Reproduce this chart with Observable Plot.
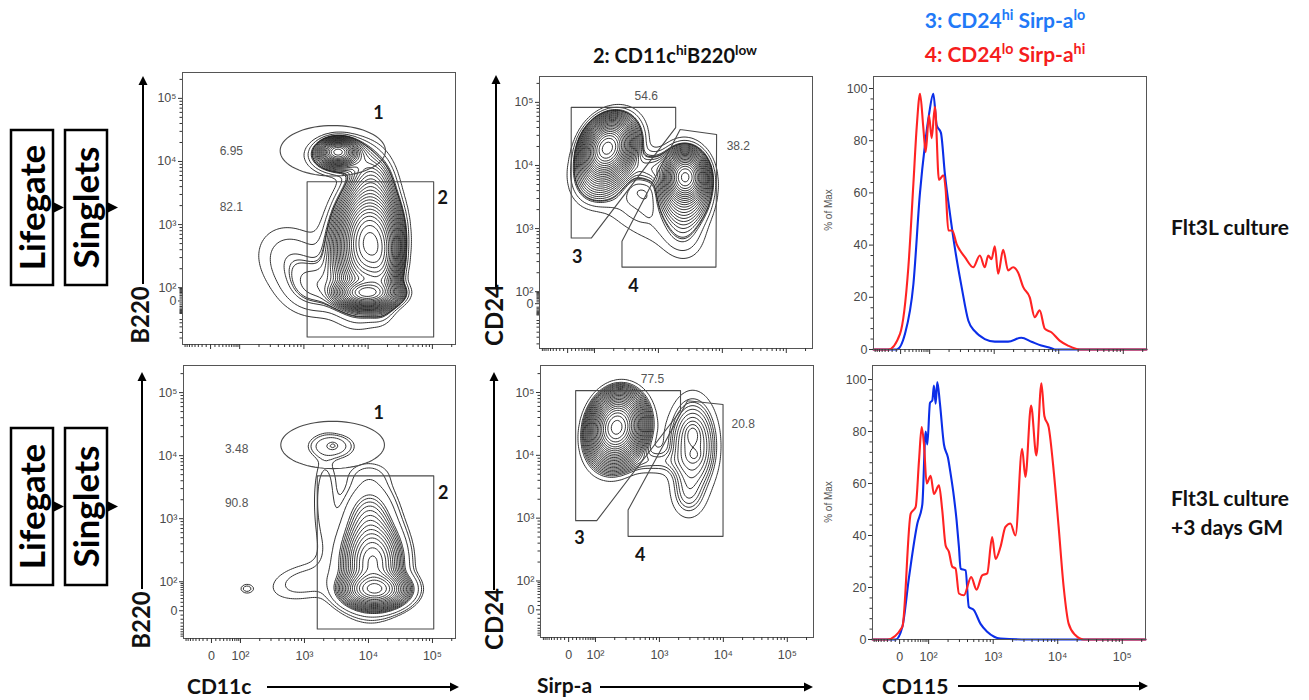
<!DOCTYPE html>
<html>
<head>
<meta charset="utf-8">
<script src="https://cdn.jsdelivr.net/npm/d3@7"></script>
<script src="https://cdn.jsdelivr.net/npm/@observablehq/plot@0.6"></script>
<style>
  html, body { margin: 0; padding: 0; background: #fff; }
  #root { position: relative; width: 1309px; height: 700px; overflow: hidden; font-family: Lato, "Open Sans", sans-serif; }
  .lbl { position: absolute; white-space: nowrap; font-weight: bold; color: #111; line-height: 1.15; }
  .lbl sup { font-size: 0.68em; vertical-align: 0.55em; line-height: 0; }
  .rot { transform: translate(-50%, -50%) rotate(-90deg); }
  .ctr { transform: translate(-50%, -50%); }
  .midy { transform: translate(0, -50%); }
</style>
</head>
<body>
<div id="root"></div>
<script>
// ================= DATA =================
// Positions on the biexponential axes are in "decade" units: 2 = 10², 3 = 10³, 4 = 10⁴, 5 = 10⁵.
const decadeLabels = ["0", "10²", "10³", "10⁴", "10⁵"];
const pctTicks = [0, 20, 40, 60, 80, 100];
const pctMinor = [4, 8, 12, 16, 24, 28, 32, 36, 44, 48, 52, 56, 64, 68, 72, 76, 84, 88, 92, 96];

// Contour populations: [centre x, centre y, spread x, spread y, correlation, relative density]
const b220Cd11cFlt3 = [
  [4.00, 2.72, 0.18, 0.33, 0.05, 1.00],
  [3.98, 1.92, 0.20, 0.10, 0.00, 0.70],
  [4.20, 2.50, 0.12, 0.32, 0.00, 0.35],
  [3.90, 2.60, 0.25, 0.45, 0.10, 0.08],
  [3.53, 4.15, 0.12, 0.085, 0.00, 0.35],
  [3.58, 4.10, 0.23, 0.14, 0.00, 0.04],
  [2.85, 2.40, 0.35, 0.35, -0.20, 0.006],
  [3.20, 2.00, 0.30, 0.25, 0.00, 0.008],
  [4.05, 3.60, 0.17, 0.26, 0.00, 0.035]
];
const b220Cd11cGM = [
  [4.10, 1.88, 0.22, 0.13, 0.00, 1.00],
  [4.07, 2.30, 0.20, 0.28, 0.00, 0.40],
  [4.02, 2.90, 0.20, 0.33, 0.00, 0.06],
  [3.95, 2.30, 0.32, 0.42, 0.00, 0.02],
  [3.42, 4.15, 0.18, 0.10, 0.00, 0.020],
  [3.45, 4.16, 0.06, 0.05, 0.00, 0.010],
  [3.32, 3.30, 0.12, 0.50, 0.00, 0.007],
  [4.00, 3.70, 0.25, 0.15, 0.00, 0.004],
  [3.00, 2.00, 0.40, 0.22, 0.30, 0.006],
  [2.10, 1.89, 0.07, 0.05, 0.00, 0.006]
];
const cd24SirpFlt3 = [
  [2.20, 4.28, 0.15, 0.18, 0.20, 1.00],
  [2.22, 4.12, 0.22, 0.28, 0.35, 0.10],
  [3.42, 3.82, 0.13, 0.16, 0.00, 0.60],
  [3.40, 3.65, 0.19, 0.28, 0.00, 0.08],
  [2.90, 3.95, 0.25, 0.15, 0.00, 0.012],
  [2.60, 3.25, 0.45, 0.35, -0.75, 0.0035],
  [3.40, 2.95, 0.20, 0.25, 0.00, 0.005]
];
const cd24SirpGM = [
  [2.33, 4.45, 0.16, 0.21, 0.10, 1.00],
  [2.35, 4.35, 0.22, 0.28, 0.20, 0.08],
  [3.52, 4.15, 0.20, 0.40, 0.00, 0.025],
  [3.52, 4.35, 0.07, 0.10, 0.00, 0.010],
  [3.55, 4.00, 0.06, 0.06, 0.00, 0.006],
  [3.45, 3.35, 0.16, 0.22, 0.00, 0.006],
  [2.90, 3.90, 0.28, 0.12, 0.00, 0.006]
];
// Contour levels: [number of main levels, ratio between levels, extra outer levels (fraction of max)]
const levelsFlt3B220 = [24, 0.8, [0.006, 0.003, 0.0015]];
const levelsGMB220 = [18, 0.8, [0.008, 0.004, 0.0025]];
const levelsFlt3Cd24 = [24, 0.8, [0.006, 0.003, 0.0015]];
const levelsGMCd24 = [24, 0.8, [0.004, 0.002]];

// Gates (vertices in axis units)
const gate1Flt3 = {cx: 3.45, cy: 4.17, rx: 0.82, ry: 0.40};
const gate2Flt3 = [[3.05, 3.68], [5.02, 3.68], [5.02, 1.22], [3.05, 1.22], [3.05, 3.68]];
const gate1GM = {cx: 3.44, cy: 4.17, rx: 0.81, ry: 0.375};
const gate2GM = [[3.20, 3.68], [5.02, 3.68], [5.02, 1.25], [3.20, 1.25], [3.20, 3.68]];
const gate3Flt3 = [[1.636, 4.92], [3.27, 4.92], [3.27, 4.60], [1.95, 2.85], [1.636, 2.85], [1.636, 4.92]];
const gate4Flt3 = [[3.34, 4.57], [3.91, 4.49], [3.90, 2.39], [2.43, 2.39], [2.43, 2.80], [3.34, 4.57]];
const gate3GM = [[1.69, 5.03], [3.33, 5.03], [3.33, 4.71], [2.02, 2.96], [1.69, 2.96], [1.69, 5.03]];
const gate4GM = [[3.44, 4.87], [3.995, 4.81], [3.995, 2.71], [2.51, 2.71], [2.51, 3.13], [3.44, 4.87]];

// Gate frequencies and gate numbers
const freqB220Flt3 = [{x: 1.87, y: 4.17, t: "6.95"}, {x: 1.87, y: 3.27, t: "82.1"}];
const freqB220GM = [{x: 1.94, y: 4.10, t: "3.48"}, {x: 1.94, y: 3.25, t: "90.8"}];
const freqCd24Flt3 = [{x: 2.81, y: 5.10, t: "54.6"}, {x: 4.25, y: 4.30, t: "38.2"}];
const freqCd24GM = [{x: 2.89, y: 5.21, t: "77.5"}, {x: 4.31, y: 4.49, t: "20.8"}];
const numB220Flt3 = [{x: 4.16, y: 4.76, t: "1"}, {x: 5.16, y: 3.41, t: "2"}];
const numB220GM = [{x: 4.16, y: 4.68, t: "1"}, {x: 5.17, y: 3.40, t: "2"}];
const numCd24Flt3 = [{x: 1.73, y: 2.54, t: "3"}, {x: 2.61, y: 2.08, t: "4"}];
const numCd24GM = [{x: 1.75, y: 2.68, t: "3"}, {x: 2.70, y: 2.41, t: "4"}];

// CD115 histograms: [axis position, % of max]
const cd115Pop3Flt3 = [[1.13,0],[1.49,0],[1.618,6],[1.748,25],[1.85,60],[1.93,79],[1.99,90],[2.057,98],[2.108,86],[2.175,83],[2.237,67],[2.315,52],[2.39,39],[2.495,24],[2.60,11],[2.70,7],[2.855,4],[3.01,3],[3.216,3],[3.42,4.5],[3.577,3],[3.73,1.5],[3.886,0.5],[3.94,0],[5.36,0]];
const cd115Pop4Flt3 = [[1.13,0],[1.361,0],[1.541,6],[1.670,31.5],[1.748,63.5],[1.799,85],[1.851,98],[1.902,85],[1.938,75.6],[1.990,89.7],[2.031,81],[2.082,93],[2.144,65],[2.211,66.7],[2.247,61.5],[2.289,45.6],[2.350,45.6],[2.417,40.5],[2.469,38],[2.546,35.4],[2.675,31.5],[2.778,36],[2.855,31.5],[2.907,36],[2.958,34.6],[3.010,39.5],[3.061,29],[3.139,38.2],[3.216,30.3],[3.293,31.5],[3.370,29.5],[3.448,24],[3.551,20],[3.628,12.4],[3.705,15],[3.783,8],[3.886,6.6],[4.014,3.4],[4.143,1.5],[4.324,0],[5.36,0]];
const cd115Pop3GM = [[1.13,0],[1.490,0],[1.593,4.9],[1.696,24],[1.825,44.6],[1.902,52],[1.954,80],[1.979,75],[2.021,91],[2.057,92],[2.082,97.7],[2.108,90.7],[2.134,99],[2.175,90.7],[2.237,75],[2.299,70],[2.340,63.8],[2.392,54.8],[2.433,45.8],[2.469,35.6],[2.495,27.3],[2.572,26.6],[2.623,12.5],[2.701,11.3],[2.804,6],[2.907,3],[3.113,0.4],[3.525,0],[5.36,0]];
const cd115Pop4GM = [[1.13,0],[1.361,0],[1.593,4.9],[1.722,48.4],[1.799,51],[1.851,69],[1.892,81.7],[1.928,75],[1.969,60],[2.031,63],[2.082,56],[2.160,59.3],[2.211,49.7],[2.263,36.2],[2.314,33.7],[2.366,28],[2.417,27.3],[2.469,17.7],[2.546,17],[2.659,24],[2.742,19.2],[2.830,24.7],[2.907,25.4],[2.984,39.4],[3.036,31],[3.113,35.6],[3.190,43.3],[3.267,44.6],[3.345,40],[3.448,73.4],[3.499,62.5],[3.587,90],[3.669,70.8],[3.747,98.6],[3.793,86],[3.860,81.7],[3.937,65],[4.014,43.3],[4.092,20.2],[4.169,6.1],[4.272,1.7],[4.401,0],[5.36,0]];

// ================= HELPERS =================
const root = document.getElementById("root");
const BLUE_LINE = "#0b2ee8", RED_LINE = "#ff2323";

function mixture(comps) {
  return (x, y) => {
    let s = 0;
    for (const [cx, cy, sx, sy, r, w] of comps) {
      const dx = (x - cx) / sx, dy = (y - cy) / sy;
      s += w * Math.exp(-0.5 * (dx * dx - 2 * r * dx * dy + dy * dy) / (1 - r * r));
    }
    return s;
  };
}
function levels(f, xd, yd, spec) {
  const [n, ratio, extra] = spec;
  let max = 0;
  for (let i = 0; i <= 150; i++) for (let j = 0; j <= 150; j++) {
    const v = f(xd[0] + (xd[1] - xd[0]) * i / 150, yd[0] + (yd[1] - yd[0]) * j / 150);
    if (v > max) max = v;
  }
  const main = d3.range(n).map(k => max * Math.pow(ratio, k + 0.6));
  return [...main, ...extra.map(e => max * e)].sort((a, b) => a - b);
}
function ellipse(g) {
  return d3.range(0, 73).map(i => {
    const a = i / 72 * 2 * Math.PI;
    return [g.cx + g.rx * Math.cos(a), g.cy + g.ry * Math.sin(a)];
  });
}
function biexMinor(z0, lo, hi) {
  const out = [];
  for (let k = 2; k <= 5; k++) for (let m = 2; m <= 9; m++) {
    const p = k + Math.log10(m);
    if (p < hi - 0.01) out.push(p);
  }
  const span = 2 - z0, s = Math.asinh(100 / 40);
  const vals = [10, 20, 30, 40, 50, 60, 70, 80, 90, 200, 300, 500, 1000, 2000, 5000, 10000];
  for (const v of vals) {
    const t = Math.asinh(v / 40) / s;
    if (v < 100) out.push(z0 + span * t);
    const n = z0 - span * t;
    if (n > lo + 0.02 && z0 - n > 0.03) out.push(n);
  }
  return out;
}
function biexMajor(z0) { return [z0, 2, 3, 4, 5]; }

function place(svg, left, top) {
  svg.style.position = "absolute";
  svg.style.left = left + "px";
  svg.style.top = top + "px";
  root.appendChild(svg);
}

const M = {l: 42, r: 12, t: 10, b: 32};
const plotStyle = {background: "none", fontFamily: "'Liberation Sans', Arial, sans-serif", fontSize: "12px", color: "#444", overflow: "visible"};

function axes(xMaj, xMin, yMaj, yMin, xFmt, yFmt) {
  return [
    Plot.axisX(xMaj, {anchor: "bottom", tickSize: 5, tickPadding: 8, tickFormat: xFmt, stroke: "#333", fill: "#4a4a4a", label: null, fontSize: 12.5}),
    Plot.axisX(xMin, {anchor: "bottom", tickSize: 3, tickFormat: () => "", stroke: "#333", label: null}),
    Plot.axisY(yMaj, {anchor: "left", tickSize: 4, tickPadding: 2, tickFormat: yFmt, stroke: "#333", fill: "#4a4a4a", label: null, fontSize: 12.5}),
    Plot.axisY(yMin, {anchor: "left", tickSize: 2.5, tickFormat: () => "", stroke: "#333", label: null})
  ];
}

function contourPanel(p) {
  const f = mixture(p.comps);
  const th = levels(f, p.xd, p.yd, p.levels);
  const xMap = new Map(biexMajor(p.x0).map((v, i) => [v, decadeLabels[i]]));
  const yMap = new Map(biexMajor(p.y0).map((v, i) => [v, decadeLabels[i]]));
  const svg = Plot.plot({
    width: p.w + M.l + M.r, height: p.h + M.t + M.b,
    marginLeft: M.l, marginRight: M.r, marginTop: M.t, marginBottom: M.b,
    x: {domain: p.xd}, y: {domain: p.yd},
    style: plotStyle,
    marks: [
      Plot.contour({value: f, x1: p.xd[0], x2: p.xd[1], y1: p.yd[0], y2: p.yd[1], thresholds: th,
        stroke: "#1c1c1c", strokeWidth: 0.9, fill: "none"}),
      ...p.gates.map(g => Plot.line(g, {x: d => d[0], y: d => d[1], stroke: "#4a4a4a", strokeWidth: 1.1})),
      Plot.text(p.freq, {x: "x", y: "y", text: "t", fill: "#555", fontSize: 12}),
      Plot.text(p.nums, {x: "x", y: "y", text: "t", fill: "#151515", fontSize: 18, fontWeight: "bold", fontFamily: "Lato, sans-serif"}),
      Plot.frame({stroke: "#555"}),
      ...axes(biexMajor(p.x0), biexMinor(p.x0, p.xd[0], p.xd[1]), biexMajor(p.y0), biexMinor(p.y0, p.yd[0], p.yd[1]),
        p.xLabels ? (d => xMap.get(d)) : (() => ""), d => yMap.get(d))
    ]
  });
  place(svg, p.left - M.l, p.top - M.t);
}

function histPanel(p) {
  const xMap = new Map(biexMajor(p.x0).map((v, i) => [v, decadeLabels[i]]));
  const svg = Plot.plot({
    width: p.w + M.l + M.r, height: p.h + M.t + M.b,
    marginLeft: M.l, marginRight: M.r, marginTop: M.t, marginBottom: M.b,
    x: {domain: p.xd}, y: {domain: p.yd},
    style: plotStyle,
    marks: [
      Plot.line(p.blue, {x: d => d[0], y: d => d[1], stroke: BLUE_LINE, strokeWidth: 2.1, strokeLinejoin: "round", curve: "monotone-x"}),
      Plot.line(p.red, {x: d => d[0], y: d => d[1], stroke: RED_LINE, strokeWidth: 2.1, strokeLinejoin: "round", curve: "monotone-x"}),
      Plot.frame({stroke: "#555"}),
      ...axes(biexMajor(p.x0), biexMinor(p.x0, p.xd[0], p.xd[1]), pctTicks, pctMinor,
        p.xLabels ? (d => xMap.get(d)) : (() => ""), d => String(d))
    ]
  });
  place(svg, p.left - M.l, p.top - M.t);
}

// ================= PANELS =================
contourPanel({left: 182, top: 72, w: 273, h: 272, xd: [1.11, 5.36], yd: [1.10, 5.41], x0: 1.547, y0: 1.79,
  comps: b220Cd11cFlt3, levels: levelsFlt3B220, gates: [ellipse(gate1Flt3), gate2Flt3], freq: freqB220Flt3, nums: numB220Flt3, xLabels: false});
contourPanel({left: 539, top: 76, w: 273, h: 272, xd: [1.14, 5.41], yd: [1.10, 5.41], x0: 1.58, y0: 1.81,
  comps: cd24SirpFlt3, levels: levelsFlt3Cd24, gates: [gate3Flt3, gate4Flt3], freq: freqCd24Flt3, nums: numCd24Flt3, xLabels: false});
histPanel({left: 873, top: 76, w: 273, h: 273, xd: [1.13, 5.36], yd: [0, 104.6], x0: 1.55,
  blue: cd115Pop3Flt3, red: cd115Pop4Flt3, xLabels: false});
contourPanel({left: 183, top: 365, w: 272, h: 273, xd: [1.11, 5.36], yd: [1.10, 5.43], x0: 1.547, y0: 1.54,
  comps: b220Cd11cGM, levels: levelsGMB220, gates: [ellipse(gate1GM), gate2GM], freq: freqB220GM, nums: numB220GM, xLabels: true});
contourPanel({left: 540, top: 365, w: 273, h: 272, xd: [1.14, 5.41], yd: [1.10, 5.43], x0: 1.58, y0: 1.54,
  comps: cd24SirpGM, levels: levelsGMCd24, gates: [gate3GM, gate4GM], freq: freqCd24GM, nums: numCd24GM, xLabels: true});
histPanel({left: 872, top: 365, w: 273, h: 274, xd: [1.13, 5.36], yd: [0, 105.4], x0: 1.55,
  blue: cd115Pop3GM, red: cd115Pop4GM, xLabels: true});

// ================= ANNOTATIONS =================
function label(html, x, y, cls, style) {
  const d = document.createElement("div");
  d.className = "lbl " + cls;
  d.innerHTML = html;
  d.style.left = x + "px"; d.style.top = y + "px";
  Object.assign(d.style, style || {});
  root.appendChild(d);
}
label("3: CD24<sup>hi</sup> Sirp-a<sup>lo</sup>", 1005, 20, "ctr", {color: "#2179f7", fontSize: "21px"});
label("4: CD24<sup>lo</sup> Sirp-a<sup>hi</sup>", 1005, 54, "ctr", {color: "#f51d1d", fontSize: "21px"});
label("2: CD11c<sup>hi</sup>B220<sup>low</sup>", 675, 55, "ctr", {fontSize: "20px"});
label("Flt3L culture", 1171, 227, "midy", {fontSize: "21px"});
label("Flt3L culture", 1171, 498, "midy", {fontSize: "21px"});
label("+3 days GM", 1171, 527, "midy", {fontSize: "21px"});
label("B220", 140, 315, "rot", {fontSize: "24px"});
label("B220", 141, 620, "rot", {fontSize: "24px"});
label("CD24", 494, 315, "rot", {fontSize: "24px"});
label("CD24", 494, 619, "rot", {fontSize: "24px"});
label("CD11c", 187, 686, "midy", {fontSize: "21px"});
label("Sirp-a", 537, 685, "midy", {fontSize: "21px"});
label("CD115", 882, 686, "midy", {fontSize: "21px"});
label("% of Max", 829, 210, "rot", {fontSize: "10px", fontWeight: "normal", color: "#555", fontFamily: "'Liberation Sans', Arial, sans-serif"});
label("% of Max", 829, 502, "rot", {fontSize: "10px", fontWeight: "normal", color: "#555", fontFamily: "'Liberation Sans', Arial, sans-serif"});

const deco = d3.create("svg").attr("width", 1309).attr("height", 700)
  .style("position", "absolute").style("left", 0).style("top", 0).style("pointer-events", "none");
function arrow(x1, y1, x2, y2) {
  const a = Math.atan2(y2 - y1, x2 - x1), L = 9, W = 4.5;
  const bx = x2 - L * Math.cos(a), by = y2 - L * Math.sin(a);
  deco.append("line").attr("x1", x1).attr("y1", y1).attr("x2", bx).attr("y2", by).attr("stroke", "#000").attr("stroke-width", 2);
  deco.append("path").attr("d", `M${x2},${y2}L${bx - W * Math.sin(a)},${by + W * Math.cos(a)}L${bx + W * Math.sin(a)},${by - W * Math.cos(a)}Z`).attr("fill", "#000");
}
arrow(143, 284, 143, 76);
arrow(142, 589, 142, 372);
arrow(496, 287, 496, 75);
arrow(494, 590, 494, 372);
arrow(267, 687, 459, 687);
arrow(600, 687, 813, 687);
arrow(958, 686, 1148, 686);

function gateBoxes(y0, y1) {
  const cy = (y0 + y1) / 2;
  for (const [x, t] of [[11, "Lifegate"], [65, "Singlets"]]) {
    deco.append("rect").attr("x", x).attr("y", y0).attr("width", 42).attr("height", y1 - y0)
      .attr("fill", "none").attr("stroke", "#000").attr("stroke-width", 2.5);
    deco.append("text").attr("transform", `translate(${x + 21},${cy}) rotate(-90)`)
      .attr("text-anchor", "middle").attr("dy", "0.36em")
      .attr("font-family", "Lato, sans-serif").attr("font-weight", "bold").attr("font-size", 35).attr("fill", "#000").text(t);
    deco.append("path").attr("d", `M${x + 43},${cy - 5}L${x + 53},${cy}L${x + 43},${cy + 5}Z`).attr("fill", "#000");
  }
}
gateBoxes(130, 285);
gateBoxes(428, 585);
root.appendChild(deco.node());
</script>
</body>
</html>
